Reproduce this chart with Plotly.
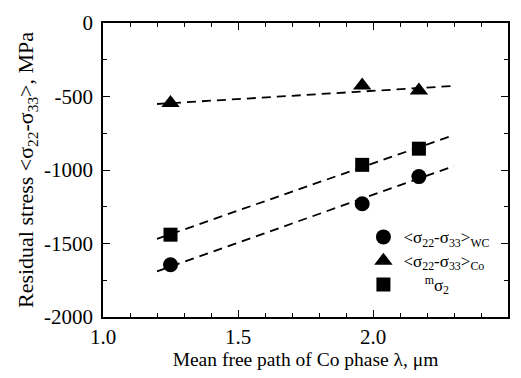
import plotly.graph_objects as go

# Data
lam = [1.25, 1.96, 2.17]
s_wc = [-1645, -1230, -1045]
s_co = [-545, -425, -460]
s_m2 = [-1440, -965, -855]

# Dashed trend lines (endpoints)
fit_x = [1.2, 2.3]
fit_wc = [-1690, -973]
fit_co = [-551, -428]
fit_m2 = [-1469, -762]

x_ticks = [1.0, 1.5, 2.0, 2.5]
y_ticks = [0, -500, -1000, -1500, -2000]

FONT = "Liberation Serif"

def big(s):
    return '<span style="font-size:17px">' + s + '</span>'

fig = go.Figure()
dash_style = dict(color="black", width=1.8, dash="9px,6px")
for fy in (fit_wc, fit_co, fit_m2):
    fig.add_trace(go.Scatter(x=fit_x, y=fy, mode="lines", line=dash_style,
                             showlegend=False, hoverinfo="skip"))

fig.add_trace(go.Scatter(x=lam, y=s_wc, mode="markers",
                         marker=dict(symbol="circle", size=15, color="black"),
                         name=big("&lt;σ<sub>22</sub>-σ<sub>33</sub>&gt;<sub>WC</sub>")))
fig.add_trace(go.Scatter(x=lam, y=s_co, mode="markers",
                         marker=dict(symbol="triangle-up", size=16, color="black"),
                         name=big("&lt;σ<sub>22</sub>-σ<sub>33</sub>&gt;<sub>Co</sub>")))
fig.add_trace(go.Scatter(x=lam, y=s_m2, mode="markers",
                         marker=dict(symbol="square", size=14, color="black"),
                         name=big("&nbsp;&nbsp;&nbsp;&nbsp;&nbsp;<sup>m</sup>σ<sub>2</sub>")))

axis_common = dict(showline=True, linecolor="black", linewidth=1.5, mirror="ticks",
                   ticks="inside", ticklen=7, tickwidth=1.2, tickcolor="black",
                   showgrid=False, zeroline=False,
                   tickfont=dict(family=FONT, size=21, color="black"))

fig.update_xaxes(range=[1.0, 2.5], tickvals=x_ticks, ticktext=[f"{v:.1f}" for v in x_ticks],
                 minor=dict(dtick=0.1, tick0=1.0, ticks="inside", ticklen=4, tickcolor="black",
                            tickwidth=1.2, showgrid=False),
                 title=dict(text="Mean free path of Co phase λ, μm",
                            font=dict(family=FONT, size=19.5, color="black"), standoff=2),
                 **axis_common)
fig.update_yaxes(range=[-2000, 0], tickvals=y_ticks, ticktext=[str(v) for v in y_ticks],
                 minor=dict(dtick=250, tick0=0, ticks="inside", ticklen=4, tickcolor="black",
                            tickwidth=1.2, showgrid=False),
                 title=dict(text="Residual stress &lt;σ<sub>22</sub>-σ<sub>33</sub>&gt;, MPa",
                            font=dict(family=FONT, size=22, color="black"), standoff=4),
                 ticklabelstandoff=4,
                 **axis_common)

fig.update_layout(
    width=521, height=378,
    margin=dict(l=103, r=13, t=23, b=61),
    paper_bgcolor="white", plot_bgcolor="white",
    showlegend=True,
    legend=dict(x=0.643, y=0.33, xanchor="left", yanchor="top",
                bgcolor="rgba(0,0,0,0)", borderwidth=0,
                font=dict(family=FONT, size=16, color="black"),
                tracegroupgap=0, itemwidth=30),
)

fig.write_html("out.html")
